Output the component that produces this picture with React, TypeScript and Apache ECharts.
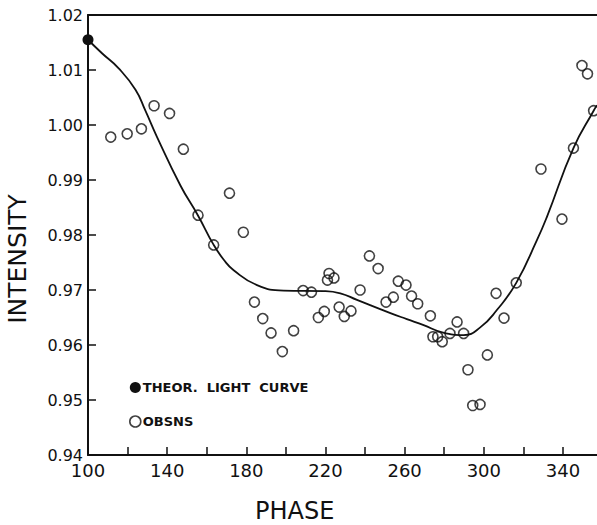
import React, { useEffect, useRef } from "react";
import * as echarts from "echarts";

// Theoretical light curve (phase, intensity)
const theoPhase = [100, 107.2, 115.5, 124, 129, 134.9, 146.7, 155.5, 163.5, 168.6, 173.6, 185.4, 198.9, 219.1, 227.5, 235.9, 252.8, 261.1, 269.6, 279, 289.8, 298.2, 306.7, 316.4, 326.9, 331.9, 345.3, 355.5, 357.2];
const theoIntensity = [1.0155, 1.013, 1.0103, 1.0064, 1.0026, 0.9978, 0.989, 0.9836, 0.9782, 0.9755, 0.9736, 0.9709, 0.9699, 0.9698, 0.9694, 0.9682, 0.9658, 0.9647, 0.9636, 0.9623, 0.9618, 0.9632, 0.9664, 0.9713, 0.9791, 0.9833, 0.9958, 1.0026, 1.0036];

// Observations (phase, intensity)
const obsPhase = [111.5, 119.8, 127.0, 133.4, 141.2, 148.2, 155.6, 163.5, 171.5, 178.5, 184.1, 188.3, 192.5, 198.2, 203.9, 208.7, 212.9, 216.4, 219.4, 221.8, 221.0, 224.3, 226.9, 229.5, 232.9, 237.5, 242.2, 246.6, 250.6, 254.3, 256.8, 260.7, 263.5, 266.6, 273.0, 274.3, 276.7, 279.0, 282.9, 286.5, 289.8, 292.0, 294.4, 298.1, 301.8, 306.2, 310.2, 316.4, 328.9, 339.5, 345.3, 349.6, 352.4, 355.5];
const obsIntensity = [0.9978, 0.9984, 0.9993, 1.0035, 1.0021, 0.9956, 0.9836, 0.9782, 0.9876, 0.9805, 0.9678, 0.9648, 0.9622, 0.9588, 0.9626, 0.9699, 0.9696, 0.965, 0.9661, 0.973, 0.9718, 0.9722, 0.9669, 0.9652, 0.9662, 0.97, 0.9762, 0.9739, 0.9678, 0.9687, 0.9716, 0.9709, 0.9689, 0.9675, 0.9653, 0.9615, 0.9615, 0.9606, 0.9621, 0.9642, 0.9621, 0.9555, 0.949, 0.9492, 0.9582, 0.9694, 0.9649, 0.9713, 0.992, 0.9829, 0.9958, 1.0108, 1.0093, 1.0026];

const xMin = 100;
const xMax = 357.2;
const xStep = 20;
const yMin = 0.94;
const yMax = 1.02;
const yStep = 0.01;

const theoName = "THEOR. LIGHT CURVE";
const obsName = "OBSNS";
const xTitle = "PHASE";
const yTitle = "INTENSITY";

const FONT = "'DejaVu Sans', 'Liberation Sans', sans-serif";
const INK = "#111";

export default function App() {
  const ref = useRef<HTMLDivElement>(null);
  useEffect(() => {
    if (!ref.current) return;
    const chart = echarts.init(ref.current, null, { renderer: "svg" });
    const theoData = theoPhase.map((p, i) => [p, theoIntensity[i]]);
    const obsData = obsPhase.map((p, i) => [p, obsIntensity[i]]);
    chart.setOption({
      animation: false,
      backgroundColor: "#fff",
      grid: { left: 88, right: 0, top: 15, bottom: 70, containLabel: false },
      legend: {
        orient: "vertical",
        left: 129,
        top: 381,
        padding: 0,
        itemWidth: 11,
        itemHeight: 11,
        itemGap: 21,
        selectedMode: false,
        data: [
          { name: theoName, icon: "circle", itemStyle: { color: INK, borderWidth: 0 } },
          { name: obsName, icon: "circle", itemStyle: { color: "transparent", borderColor: INK, borderWidth: 1.6 } },
        ],
        formatter: (n: string) => n.replace(/ /g, "  "),
        textStyle: { fontFamily: FONT, fontSize: 13, fontWeight: "bold", color: INK, padding: [0, 0, 0, -3] },
      },
      xAxis: [
        {
          type: "value",
          min: xMin,
          max: xMax,
          interval: xStep,
          axisLine: { show: true, lineStyle: { color: INK, width: 2 } },
          axisTick: { show: true, inside: true, length: 8, lineStyle: { color: INK, width: 1.5 } },
          splitLine: { show: false },
          axisLabel: {
            showMaxLabel: false,
            margin: 6,
            fontFamily: FONT,
            fontSize: 18,
            color: INK,
            formatter: (v: number) => (Math.abs((v - xMin) % 40) < 1e-6 ? String(Math.round(v)) : ""),
          },
        },
        {
          type: "value",
          position: "top",
          min: xMin,
          max: xMax,
          axisLine: { show: true, lineStyle: { color: INK, width: 2 } },
          axisTick: { show: false },
          axisLabel: { show: false },
          splitLine: { show: false },
        },
      ],
      yAxis: {
        type: "value",
        min: yMin,
        max: yMax,
        interval: yStep,
        axisLine: { show: true, lineStyle: { color: INK, width: 2 } },
        axisTick: { show: true, inside: true, length: 8, lineStyle: { color: INK, width: 1.5 } },
        splitLine: { show: false },
        axisLabel: {
          margin: 5,
          fontFamily: FONT,
          fontSize: 16,
          color: INK,
          formatter: (v: number) => v.toFixed(2),
        },
      },
      graphic: [
        {
          type: "text",
          left: 255,
          top: 499,
          style: { text: xTitle, fontFamily: FONT, fontSize: 24, fill: INK },
        },
        {
          type: "text",
          x: 17,
          y: 259,
          rotation: Math.PI / 2,
          style: { text: yTitle, fontFamily: FONT, fontSize: 25, fill: INK, align: "center", verticalAlign: "middle" },
        },
      ],
      series: [
        {
          name: theoName,
          type: "line",
          data: theoData,
          smooth: 0.5,
          symbol: "circle",
          symbolSize: (_v: any, p: any) => (p.dataIndex === 0 ? 11 : 0),
          showAllSymbol: true,
          clip: false,
          lineStyle: { color: INK, width: 1.8 },
          itemStyle: { color: INK },
          z: 3,
        },
        {
          name: obsName,
          type: "scatter",
          data: obsData,
          symbol: "circle",
          symbolSize: 10,
          clip: false,
          itemStyle: { color: "transparent", borderColor: INK, borderWidth: 1.6 },
          z: 2,
        },
      ],
    });
    return () => chart.dispose();
  }, []);
  return <div ref={ref} style={{ position: "fixed", left: 0, top: 0, width: 597, height: 525, background: "#fff" }} />;
}
